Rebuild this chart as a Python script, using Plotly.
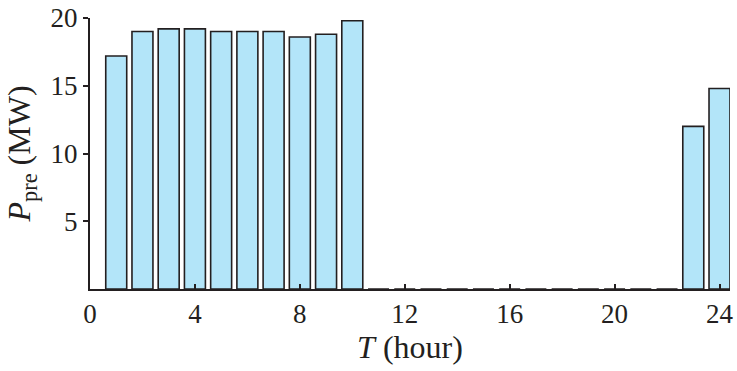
import plotly.graph_objects as go

hours = list(range(1, 25))
p_pre = [17.2, 19.0, 19.2, 19.2, 19.0, 19.0, 19.0, 18.6, 18.8, 19.8,
         0, 0, 0, 0, 0, 0, 0, 0, 0, 0, 0, 0, 12.0, 14.8]
x_ticks = [0, 4, 8, 12, 16, 20, 24]
y_ticks = [5, 10, 15, 20]

font = dict(family="Liberation Serif, Times New Roman, serif", size=27, color="#231f20")

fig = go.Figure(go.Bar(
    x=hours, y=p_pre, width=0.8,
    marker=dict(color="#b3e5f9", line=dict(color="#231f20", width=1.6)),
))

fig.update_layout(
    width=737, height=371,
    margin=dict(l=90, r=7, t=18, b=82),
    paper_bgcolor="white", plot_bgcolor="white",
    font=font, showlegend=False,
    xaxis=dict(
        range=[0, 24.4], tickvals=x_ticks, ticks="inside", ticklen=5,
        tickwidth=1.5, tickcolor="#231f20", automargin=False,
        showline=True, linecolor="#231f20", linewidth=2, showgrid=False,
        zeroline=False,
        title=dict(text="<i>T</i> (hour)", standoff=6),
    ),
    yaxis=dict(
        range=[0, 20], tickvals=y_ticks, ticks="outside", ticklen=5,
        tickwidth=1.5, tickcolor="#231f20", automargin=False,
        showline=True, linecolor="#231f20", linewidth=2, showgrid=False,
        zeroline=False,
        title=dict(text="<i>P</i><sub>pre</sub> (MW)", standoff=10),
    ),
)

fig.write_html("out.html")
